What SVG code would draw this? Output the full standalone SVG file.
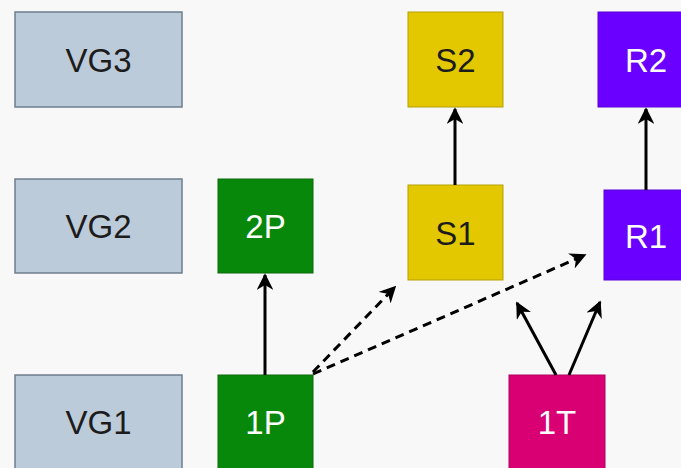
<svg xmlns="http://www.w3.org/2000/svg" width="681" height="468" viewBox="0 0 681 468">
<style>
text{font-family:"Liberation Sans",Arial,sans-serif;font-size:33px;text-anchor:middle;dominant-baseline:central}
.vg{fill:#bccbd9;stroke:#6d7e8c;stroke-width:1.5}
.g{fill:#07880a;stroke:#0a6a0a;stroke-width:1}
.y{fill:#e3c800;stroke:#b59f00;stroke-width:1}
.p{fill:#6a00ff;stroke:#5a00d8;stroke-width:1}
.m{fill:#d80073;stroke:#b00060;stroke-width:1}
.dk{fill:#1c1c1c}
.wt{fill:#ffffff}
.c{stroke:#000;stroke-width:3;fill:none;marker-end:url(#ah)}
.d{stroke-dasharray:9,6}
</style>
<defs>
<marker id="ah" viewBox="0 0 10 10" refX="9" refY="5" markerWidth="5.5" markerHeight="5.5" orient="auto" markerUnits="strokeWidth">
<path d="M0,0 L10,5 L0,10 L3,5 z" fill="#000"/>
</marker>
</defs>
<rect width="681" height="468" fill="#f8f8f8"/>
<g id="VG3"><rect class="vg" x="15" y="12" width="167" height="95"/><text class="dk" x="98.5" y="60">VG3</text></g>
<g id="VG2"><rect class="vg" x="15" y="179" width="167" height="94"/><text class="dk" x="98.5" y="226">VG2</text></g>
<g id="VG1"><rect class="vg" x="15" y="375" width="167" height="100"/><text class="dk" x="98.5" y="422">VG1</text></g>
<g id="n2P"><rect class="g" x="218" y="179" width="95" height="94"/><text class="wt" x="265.5" y="226">2P</text></g>
<g id="n1P"><rect class="g" x="218" y="375" width="95" height="100"/><text class="wt" x="265.5" y="422">1P</text></g>
<g id="S2"><rect class="y" x="408" y="12" width="95" height="95"/><text class="dk" x="455.5" y="60">S2</text></g>
<g id="S1"><rect class="y" x="408" y="185" width="95" height="95"/><text class="dk" x="455.5" y="233">S1</text></g>
<g id="R2"><rect class="p" x="598" y="12" width="95" height="95"/><text class="wt" x="646" y="60">R2</text></g>
<g id="R1"><rect class="p" x="604" y="190" width="95" height="90"/><text class="wt" x="646" y="236">R1</text></g>
<g id="n1T"><rect class="m" x="509" y="375" width="96" height="100"/><text class="wt" x="557" y="422">1T</text></g>
<g id="connectors">
<line class="c" x1="265" y1="375" x2="265" y2="275"/>
<line class="c" x1="455" y1="185" x2="455" y2="109"/>
<line class="c" x1="646" y1="190" x2="646" y2="109"/>
<line class="c d" x1="313" y1="372" x2="395" y2="287"/>
<line class="c d" x1="313" y1="374" x2="585" y2="255"/>
<line class="c" x1="556" y1="375" x2="517" y2="303"/>
<line class="c" x1="569" y1="375" x2="600" y2="302"/>
</g>
</svg>
